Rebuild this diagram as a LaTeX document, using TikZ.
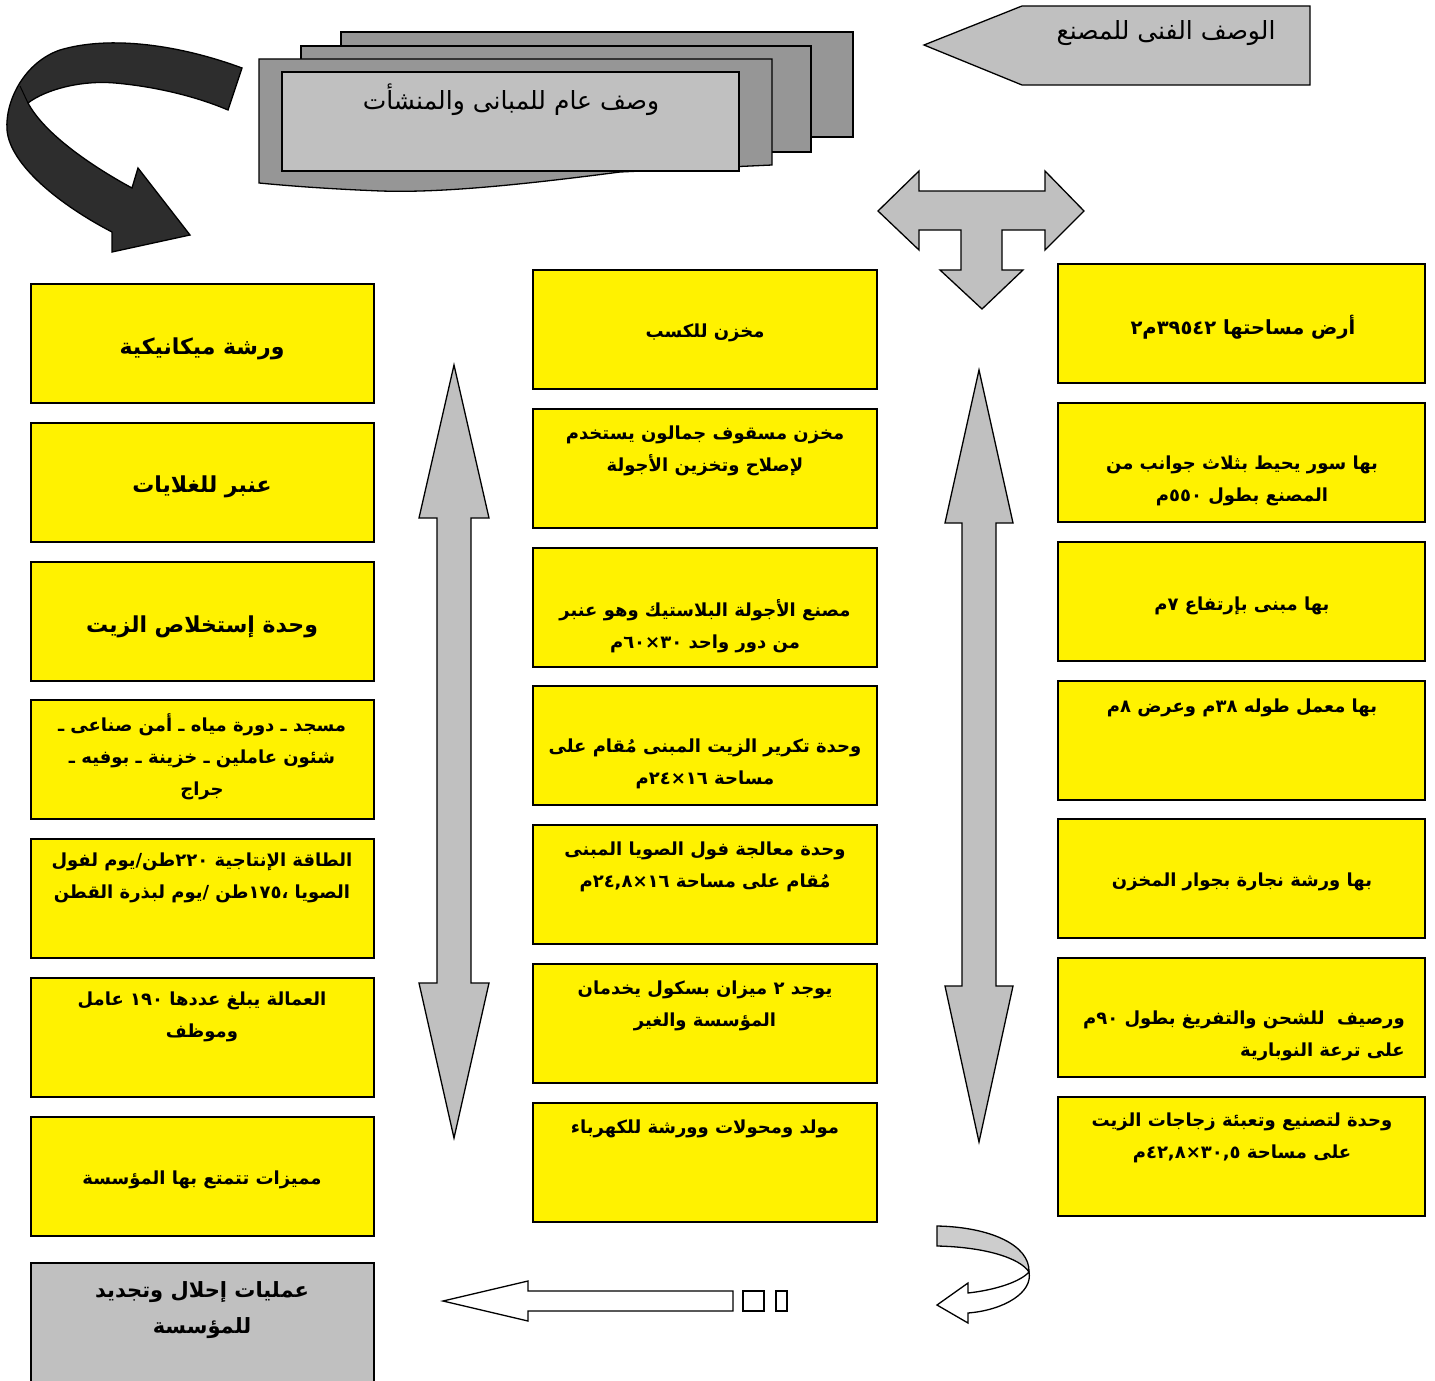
\documentclass[tikz,border=0pt]{standalone}
\usepackage{fontspec}
\newfontfamily\arabicfont[Script=Arabic]{DejaVu Sans}
\TeXXeTstate=1
\newcommand\arline[1]{\beginR #1\endR}
\definecolor{shade}{HTML}{C0C0C0}
\definecolor{darkshade}{HTML}{969696}
\definecolor{curl}{HTML}{2D2D2D}

\begin{document}
\begin{tikzpicture}[x=1pt, y=-1pt,
    ybox/.style={rectangle, draw, fill=yellow, line width=2.2pt, minimum height=119pt, inner sep=0pt},
    lbox/.style={ybox, minimum width=343pt},
    mbox/.style={ybox, minimum width=344pt},
    rbox/.style={ybox, minimum width=367pt},
    txt/.style={font=\arabicfont\bfseries\fontsize{18}{32}\selectfont, align=center, inner sep=0pt},
    bigtxt/.style={txt, font=\arabicfont\bfseries\fontsize{22}{32}\selectfont},
    head/.style={font=\arabicfont\fontsize{25}{30}\selectfont, inner sep=0pt},
    shp/.style={draw, line width=1.3pt, fill=shade}]
  \useasboundingbox (0,0) rectangle (1435,1381);
  \clip (0,0) rectangle (1435,1381);

  % curled arrow top left
  \draw[line width=1.3pt, fill=curl] (242,68) .. controls (180,45) and (110,35) .. (60,50)
    .. controls (25,62) and (5,100) .. (7,130) .. controls (10,165) and (60,205) .. (112,232)
    -- (112,252) -- (190,235) -- (138,168) -- (132,188)
    .. controls (95,168) and (45,135) .. (28,103) .. controls (45,90) and (80,80) .. (115,83)
    .. controls (160,87) and (200,98) .. (228,110) -- cycle;
  \draw[line width=1pt] (20,86) -- (28,103);

  % stacked pages
  \draw[shp, fill=darkshade] (341,32) rectangle (853,137);
  \draw[shp, fill=darkshade] (301,46) rectangle (811,152);
  \draw[shp, fill=darkshade] (259,59) -- (772,59) -- (772,165) -- (620,172)
    .. controls (520,185) and (440,193) .. (381,191) .. controls (330,189) and (290,186) .. (259,183) -- cycle;
  \path (510.5,121.5) node[rectangle, draw, fill=shade, line width=2.2pt, minimum width=457pt, minimum height=99pt](gen){}
        (511,100) node[head](tgen){\arline{وصف عام للمبانى والمنشأت}};

  % pentagon label
  \draw[shp] (924,45) -- (1022,6) -- (1310,6) -- (1310,85) -- (1022,85) -- cycle;
  \path (1166,33) node[head](ttech){\arline{الوصف الفنى للمصنع}};

  % three way arrow
  \draw[shp] (878,211) -- (919,171) -- (919,191) -- (1045,191) -- (1045,171) -- (1084,211)
    -- (1045,250) -- (1045,230) -- (1002,230) -- (1002,270) -- (1023,270) -- (982,309)
    -- (940,270) -- (961,270) -- (961,230) -- (919,230) -- (919,250) -- cycle;

  % vertical double arrows
  \draw[shp] (454,365) -- (489,518) -- (471,518) -- (471,983) -- (489,983) -- (454,1138)
    -- (419,983) -- (437,983) -- (437,518) -- (419,518) -- cycle;
  \draw[shp] (979,370) -- (1013,523) -- (996,523) -- (996,986) -- (1013,986) -- (979,1142)
    -- (945,986) -- (962,986) -- (962,523) -- (945,523) -- cycle;

  % left column
  \path (202.5,343.5) node[lbox](l1){}
        (202.5,482.5) node[lbox](l2){}
        (202.5,621.5) node[lbox](l3){}
        (202.5,759.5) node[lbox](l4){}
        (202.5,898.5) node[lbox](l5){}
        (202.5,1037.5) node[lbox](l6){}
        (202.5,1176.5) node[lbox](l7){}
        (202.5,1328) node[lbox, fill=shade, minimum height=130pt](l8){};
  \path (202,349) node[bigtxt](tl1){\arline{ورشة ميكانيكية}}
        (202,487) node[bigtxt](tl2){\arline{عنبر للغلايات}}
        (202,627) node[bigtxt](tl3){\arline{وحدة إستخلاص الزيت}}
        (202,757) node[txt](tl4){\arline{مسجد ـ دورة مياه ـ أمن صناعى ـ}\\\arline{شئون عاملين ـ خزينة ـ بوفيه ـ}\\\arline{جراج}}
        (202,878) node[txt](tl5){\arline{الطاقة الإنتاجية ٢٢٠طن/يوم لفول}\\\arline{الصويا ،١٧٥طن /يوم لبذرة القطن}}
        (202,1017) node[txt](tl6){\arline{العمالة يبلغ عددها ١٩٠ عامل}\\\arline{وموظف}}
        (202,1180) node[txt](tl7){\arline{مميزات تتمتع بها المؤسسة}}
        (202,1310) node[txt, font=\arabicfont\bfseries\fontsize{21}{36}\selectfont](tl8){\arline{عمليات إحلال وتجديد}\\\arline{للمؤسسة}};

  % middle column
  \path (705,329.5) node[mbox](m1){}
        (705,468.5) node[mbox](m2){}
        (705,607.5) node[mbox](m3){}
        (705,745.5) node[mbox](m4){}
        (705,884.5) node[mbox](m5){}
        (705,1023.5) node[mbox](m6){}
        (705,1162.5) node[mbox](m7){};
  \path (705,333) node[txt](tm1){\arline{مخزن للكسب}}
        (705,451) node[txt](tm2){\arline{مخزن مسقوف جمالون يستخدم}\\\arline{لإصلاح وتخزين الأجولة}}
        (705,626) node[txt](tm3){\arline{مصنع الأجولة البلاستيك وهو عنبر}\\\arline{من دور واحد ٣٠×٦٠م}}
        (705,764) node[txt](tm4){\arline{وحدة تكرير الزيت المبنى مُقام على}\\\arline{مساحة ١٦×٢٤م}}
        (705,867) node[txt](tm5){\arline{وحدة معالجة فول الصويا المبنى}\\\arline{مُقام على مساحة ١٦×٢٤,٨م}}
        (705,1006) node[txt](tm6){\arline{يوجد ٢ ميزان بسكول يخدمان}\\\arline{المؤسسة والغير}}
        (705,1129) node[txt](tm7){\arline{مولد ومحولات وورشة للكهرباء}};

  % right column
  \path (1241.5,323.5) node[rbox](r1){}
        (1241.5,462.5) node[rbox](r2){}
        (1241.5,601.5) node[rbox](r3){}
        (1241.5,740.5) node[rbox](r4){}
        (1241.5,878.5) node[rbox](r5){}
        (1241.5,1017.5) node[rbox](r6){}
        (1241.5,1156.5) node[rbox](r7){};
  \path (1243,327) node[txt, font=\arabicfont\bfseries\fontsize{19.5}{32}\selectfont](tr1){\arline{أرض مساحتها ٣٩٥٤٢م٢}}
        (1242,481) node[txt](tr2){\arline{بها سور يحيط بثلاث جوانب من}\\\arline{المصنع بطول ٥٥٠م}}
        (1242,606) node[txt](tr3){\arline{بها مبنى بإرتفاع ٧م}}
        (1242,708) node[txt](tr4){\arline{بها معمل طوله ٣٨م وعرض ٨م}}
        (1242,882) node[txt](tr5){\arline{بها ورشة نجارة بجوار المخزن}}
        (1405,1036) node[txt, align=right, anchor=east](tr6){\arline{ورصيف~ للشحن والتفريغ بطول ٩٠م}\\\arline{على ترعة النوبارية}}
        (1242,1138) node[txt](tr7){\arline{وحدة لتصنيع وتعبئة زجاجات الزيت}\\\arline{على مساحة ٣٠,٥×٤٢,٨م}};

  % bottom arrows
  \draw[line width=1.3pt, fill=white] (443,1301) -- (528,1281) -- (528,1291) -- (733,1291)
    -- (733,1311) -- (528,1311) -- (528,1321) -- cycle;
  \draw[line width=1.3pt] (743,1291) rectangle (764,1311) (776,1291) rectangle (787,1311);
  \draw[line width=1.3pt, fill=shade!80!white] (937,1226) .. controls (990,1227) and (1030,1245) .. (1029,1272)
    .. controls (1020,1258) and (985,1247) .. (937,1246) -- cycle;
  \draw[line width=1.3pt, fill=white] (1029,1272) .. controls (1033,1292) and (1005,1310) .. (968,1313)
    -- (968,1323) -- (937,1305) -- (968,1283) -- (968,1293)
    .. controls (995,1290) and (1020,1282) .. (1029,1272) -- cycle;
\end{tikzpicture}
\end{document}
